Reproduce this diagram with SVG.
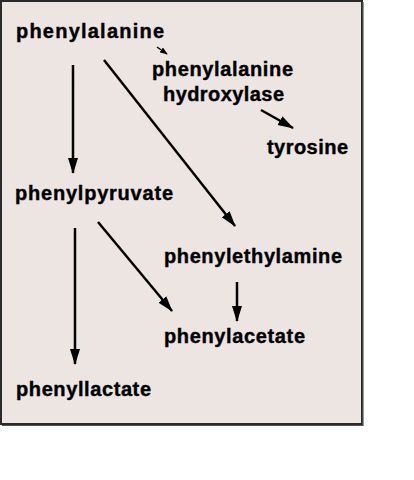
<svg xmlns="http://www.w3.org/2000/svg" width="414" height="480" viewBox="0 0 414 480">
<defs>
<style>
.lbl{font-family:"Liberation Sans",Arial,sans-serif;font-weight:bold;font-size:20px;fill:#000;stroke:#000;stroke-width:0.4}
.arr{stroke:#000;stroke-width:2.5;fill:none;marker-end:url(#ah)}
</style>
<marker id="ah" markerUnits="userSpaceOnUse" markerWidth="16" markerHeight="12" refX="15" refY="5" orient="auto" viewBox="0 0 16 10">
<path d="M0,0 L16,5 L0,10 Z" fill="#000"/>
</marker>
<marker id="ahs" markerUnits="userSpaceOnUse" markerWidth="8" markerHeight="6" refX="7" refY="3" orient="auto" viewBox="0 0 8 6">
<path d="M0,0 L8,3 L0,6 Z" fill="#000"/>
</marker>
</defs>
<rect x="0" y="0" width="414" height="480" fill="#fff"/>
<rect x="1" y="1" width="361" height="423" fill="#EDE5E1" stroke="#2a2a2a" stroke-width="2"/>
<line x1="363" y1="2" x2="363" y2="425.5" stroke="#555" stroke-width="1.2"/>
<line x1="2" y1="425.5" x2="363.5" y2="425.5" stroke="#555" stroke-width="1.2"/>
<g id="connectors">
<line class="arr" x1="73" y1="65" x2="73" y2="173"/>
<line class="arr" x1="104" y1="60" x2="235" y2="226"/>
<line x1="157" y1="47" x2="167" y2="54" stroke="#000" stroke-width="1.5" marker-end="url(#ahs)"/>
<line class="arr" x1="261" y1="110" x2="293" y2="128"/>
<line class="arr" x1="75" y1="228" x2="75" y2="364"/>
<line class="arr" x1="98" y1="222" x2="172" y2="311"/>
<line class="arr" x1="237" y1="282" x2="237" y2="321"/>
</g>
<g id="phenylalanine"><text class="lbl" x="16" y="38" textLength="148" lengthAdjust="spacing">phenylalanine</text></g>
<g id="phenylalanine-hydroxylase"><text class="lbl" x="152" y="76" textLength="141" lengthAdjust="spacing">phenylalanine</text><text class="lbl" x="163" y="101" textLength="121" lengthAdjust="spacing">hydroxylase</text></g>
<g id="tyrosine"><text class="lbl" x="267" y="154" textLength="81" lengthAdjust="spacing">tyrosine</text></g>
<g id="phenylpyruvate"><text class="lbl" x="15" y="200" textLength="158" lengthAdjust="spacing">phenylpyruvate</text></g>
<g id="phenylethylamine"><text class="lbl" x="164" y="263" textLength="178" lengthAdjust="spacing">phenylethylamine</text></g>
<g id="phenylacetate"><text class="lbl" x="164" y="343" textLength="141" lengthAdjust="spacing">phenylacetate</text></g>
<g id="phenyllactate"><text class="lbl" x="16" y="396" textLength="135" lengthAdjust="spacing">phenyllactate</text></g>
</svg>
